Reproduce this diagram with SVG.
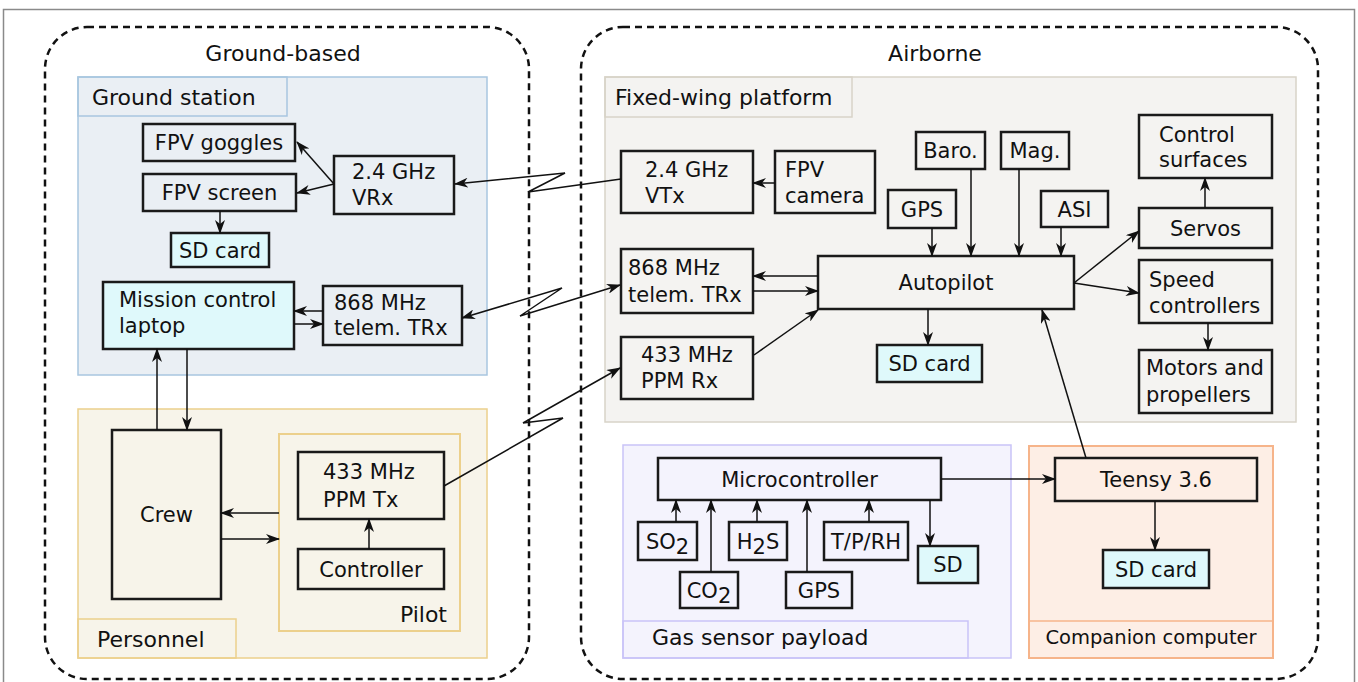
<svg xmlns="http://www.w3.org/2000/svg" width="1358" height="682" viewBox="0 0 1358 682">
<defs>
<marker id="ah" viewBox="0 0 14 10" refX="13" refY="5" markerWidth="14" markerHeight="10" markerUnits="userSpaceOnUse" orient="auto-start-reverse">
<path d="M0,0 L14,5 L0,10 L4,5 z" fill="#111"/>
</marker>
<style>
text{font-family:"DejaVu Sans","Verdana",sans-serif;fill:#111;}
.t{font-size:21px;}
.c{text-anchor:middle;}
.lab{font-size:22px;}
.n{fill:none;stroke:#1a1a1a;stroke-width:2.5;}
.cy{fill:#dff9fb;stroke:#1a1a1a;stroke-width:2.5;}
.dash{fill:none;stroke:#111;stroke-width:2.5;stroke-dasharray:7 5;}
.e{fill:none;stroke:#111;stroke-width:1.5;marker-end:url(#ah);}
.b{fill:none;stroke:#111;stroke-width:1.5;marker-end:url(#ah);marker-start:url(#ah);}
.p{fill:none;stroke:#111;stroke-width:1.5;}
</style>
</defs>
<rect x="0" y="0" width="1358" height="682" fill="#fff"/>
<rect x="3.5" y="9.5" width="1351" height="700" fill="none" stroke="#8a8a8a" stroke-width="1.5"/>

<g id="ground-based">
<rect class="dash" x="45" y="27" width="484" height="652" rx="42"/>
<text class="lab c" x="283" y="61">Ground-based</text>
</g>
<g id="airborne">
<rect class="dash" x="581" y="27" width="737" height="652" rx="42"/>
<text class="lab c" x="935" y="61">Airborne</text>
</g>

<g id="ground-station">
<rect x="78" y="77" width="409" height="298" fill="#eaeff4" stroke="#a8c6e0" stroke-width="1.5"/>
<rect x="78" y="77" width="209" height="39" fill="none" stroke="#a8c6e0" stroke-width="1.5"/>
<text class="lab" x="92" y="105">Ground station</text>
</g>
<g id="fixed-wing">
<rect x="605" y="77" width="691" height="345" fill="#f4f3f1" stroke="#d8d3c8" stroke-width="1.5"/>
<rect x="605" y="77" width="247" height="40" fill="none" stroke="#d8d3c8" stroke-width="1.5"/>
<text class="lab" x="615" y="105">Fixed-wing platform</text>
</g>
<g id="personnel">
<rect x="78" y="409" width="409" height="249" fill="#f7f4ea" stroke="#ecd08c" stroke-width="1.5"/>
<rect x="78" y="619" width="158" height="39" fill="none" stroke="#ecd08c" stroke-width="1.5"/>
<text class="lab" x="97" y="647">Personnel</text>
</g>
<g id="pilot">
<rect x="279" y="434" width="181" height="197" fill="#f7f4ea" stroke="#ecd08c" stroke-width="2"/>
<text class="lab" x="447" y="622" text-anchor="end">Pilot</text>
</g>
<g id="gas-payload">
<rect x="623" y="445" width="388" height="213" fill="#f4f3fd" stroke="#c9c3f7" stroke-width="1.5"/>
<rect x="623" y="621" width="345" height="37" fill="none" stroke="#c9c3f7" stroke-width="1.5"/>
<text class="lab" x="652" y="645">Gas sensor payload</text>
</g>
<g id="companion">
<rect x="1029" y="446" width="244" height="212" fill="#fdeee5" stroke="#f6b48a" stroke-width="2"/>
<line x1="1029" y1="621" x2="1273" y2="621" stroke="#f6b48a" stroke-width="1.5"/>
<text class="c" x="1151" y="644" font-size="19.5">Companion computer</text>
</g>

<g id="fpv-goggles"><rect class="n" x="143" y="124" width="152" height="37"/><text class="t c" x="219" y="150">FPV goggles</text></g>
<g id="fpv-screen"><rect class="n" x="143" y="174" width="153" height="37"/><text class="t c" x="219.5" y="200">FPV screen</text></g>
<g id="vrx"><rect class="n" x="334" y="156" width="120" height="58"/><text class="t" x="352" y="179">2.4 GHz</text><text class="t" x="352" y="205">VRx</text></g>
<g id="sd-ground"><rect class="cy" x="171" y="233" width="98" height="34"/><text class="t c" x="220" y="258">SD card</text></g>
<g id="laptop"><rect class="cy" x="103" y="282" width="191" height="67"/><text class="t" x="119" y="307">Mission control</text><text class="t" x="119" y="333">laptop</text></g>
<g id="trx-ground"><rect class="n" x="323" y="286" width="139" height="59"/><text class="t" x="334" y="310">868 MHz</text><text class="t" x="334" y="335">telem. TRx</text></g>
<g id="crew"><rect class="n" x="112" y="430" width="109" height="169"/><text class="t c" x="166.5" y="522">Crew</text></g>
<g id="ppm-tx"><rect class="n" x="298" y="452" width="146" height="67"/><text class="t" x="323" y="479">433 MHz</text><text class="t" x="323" y="507">PPM Tx</text></g>
<g id="controller"><rect class="n" x="298" y="549" width="146" height="40"/><text class="t c" x="371" y="576.5">Controller</text></g>

<g id="vtx"><rect class="n" x="621" y="151" width="132" height="62"/><text class="t" x="645" y="177">2.4 GHz</text><text class="t" x="645" y="203">VTx</text></g>
<g id="fpv-camera"><rect class="n" x="775" y="151" width="100" height="62"/><text class="t" x="785" y="177">FPV</text><text class="t" x="785" y="203">camera</text></g>
<g id="trx-air"><rect class="n" x="621" y="249" width="132" height="64"/><text class="t" x="628" y="275">868 MHz</text><text class="t" x="628" y="302">telem. TRx</text></g>
<g id="ppm-rx"><rect class="n" x="621" y="337" width="132" height="62"/><text class="t" x="641" y="362">433 MHz</text><text class="t" x="641" y="388">PPM Rx</text></g>
<g id="autopilot"><rect class="n" x="818" y="256" width="256" height="53"/><text class="t c" x="946" y="290">Autopilot</text></g>
<g id="sd-air"><rect class="cy" x="877" y="345" width="105" height="37"/><text class="t c" x="929.5" y="371">SD card</text></g>
<g id="gps-ap"><rect class="n" x="888" y="190" width="68" height="38"/><text class="t c" x="922" y="216.5">GPS</text></g>
<g id="baro"><rect class="n" x="916" y="132" width="69" height="37"/><text class="t c" x="950.5" y="158">Baro.</text></g>
<g id="mag"><rect class="n" x="1001" y="132" width="68" height="37"/><text class="t c" x="1035" y="158">Mag.</text></g>
<g id="asi"><rect class="n" x="1041" y="191" width="67" height="36"/><text class="t c" x="1074.5" y="216.5">ASI</text></g>
<g id="control-surfaces"><rect class="n" x="1139" y="115" width="133" height="63"/><text class="t" x="1159" y="142">Control</text><text class="t" x="1159" y="167">surfaces</text></g>
<g id="servos"><rect class="n" x="1139" y="208" width="133" height="40"/><text class="t c" x="1205.5" y="235.5">Servos</text></g>
<g id="speed-controllers"><rect class="n" x="1139" y="260" width="133" height="63"/><text class="t" x="1149" y="287">Speed</text><text class="t" x="1149" y="313">controllers</text></g>
<g id="motors"><rect class="n" x="1139" y="350" width="133" height="63"/><text class="t" x="1146" y="375">Motors and</text><text class="t" x="1146" y="402">propellers</text></g>

<g id="microcontroller"><rect class="n" x="658" y="458" width="283" height="42"/><text class="t c" x="799.5" y="486.5">Microcontroller</text></g>
<g id="so2"><rect class="n" x="638" y="522" width="59" height="38"/><text class="t c" x="667.5" y="548.5">SO<tspan dy="5">2</tspan></text></g>
<g id="co2"><rect class="n" x="680" y="572" width="58" height="36"/><text class="t c" x="709" y="597.5">CO<tspan dy="5">2</tspan></text></g>
<g id="h2s"><rect class="n" x="729" y="522" width="58" height="38"/><text class="t c" x="758" y="548.5">H<tspan dy="5">2</tspan><tspan dy="-5">S</tspan></text></g>
<g id="gps-gas"><rect class="n" x="786" y="572" width="66" height="36"/><text class="t c" x="819" y="597.5">GPS</text></g>
<g id="tprh"><rect class="n" x="824" y="522" width="84" height="38"/><text class="t c" x="866" y="548.5">T/P/RH</text></g>
<g id="sd-gas"><rect class="cy" x="918" y="546" width="60" height="37"/><text class="t c" x="948" y="572">SD</text></g>
<g id="teensy"><rect class="n" x="1055" y="458" width="202" height="43"/><text class="t c" x="1156" y="487">Teensy 3.6</text></g>
<g id="sd-companion"><rect class="cy" x="1103" y="550" width="106" height="38"/><text class="t c" x="1156" y="576.5">SD card</text></g>

<g id="connectors">
<line class="e" x1="334" y1="184" x2="297" y2="142"/>
<line class="e" x1="334" y1="184" x2="297" y2="193"/>
<line class="e" x1="220" y1="211" x2="220" y2="233"/>
<path class="e" d="M621,179 L528,192 L565,173 L455,184"/>
<line class="e" x1="323" y1="311" x2="294" y2="311"/>
<line class="e" x1="294" y1="324" x2="323" y2="324"/>
<path class="b" d="M462,318 L562,288 L520,316 L620,285"/>
<path class="e" d="M444,486 L563,418 L523,423 L620,368"/>
<line class="e" x1="157" y1="430" x2="157" y2="349"/>
<line class="e" x1="187" y1="349" x2="187" y2="430"/>
<line class="e" x1="279" y1="513" x2="221" y2="513"/>
<line class="e" x1="221" y1="539" x2="279" y2="539"/>
<line class="e" x1="369" y1="549" x2="369" y2="519"/>
<line class="e" x1="775" y1="183" x2="753" y2="183"/>
<line class="e" x1="818" y1="276" x2="753" y2="276"/>
<line class="e" x1="753" y1="291" x2="818" y2="291"/>
<line class="e" x1="754" y1="355" x2="818" y2="310"/>
<line class="e" x1="928" y1="309" x2="928" y2="345"/>
<line class="e" x1="932" y1="228" x2="932" y2="256"/>
<line class="e" x1="971" y1="169" x2="971" y2="256"/>
<line class="e" x1="1019" y1="169" x2="1019" y2="256"/>
<line class="e" x1="1061" y1="227" x2="1061" y2="256"/>
<line class="e" x1="1205" y1="208" x2="1205" y2="178"/>
<line class="e" x1="1074" y1="283" x2="1139" y2="231"/>
<line class="e" x1="1074" y1="283" x2="1139" y2="293"/>
<line class="e" x1="1208" y1="323" x2="1208" y2="350"/>
<line class="e" x1="1086" y1="458" x2="1042" y2="310"/>
<line class="e" x1="676" y1="522" x2="676" y2="500"/>
<line class="e" x1="711" y1="572" x2="711" y2="500"/>
<line class="e" x1="757" y1="522" x2="757" y2="500"/>
<line class="e" x1="807" y1="572" x2="807" y2="500"/>
<line class="e" x1="869" y1="522" x2="869" y2="500"/>
<line class="e" x1="930" y1="500" x2="930" y2="546"/>
<line class="e" x1="941" y1="479" x2="1055" y2="479"/>
<line class="e" x1="1155" y1="501" x2="1155" y2="550"/>
</g>
</svg>
